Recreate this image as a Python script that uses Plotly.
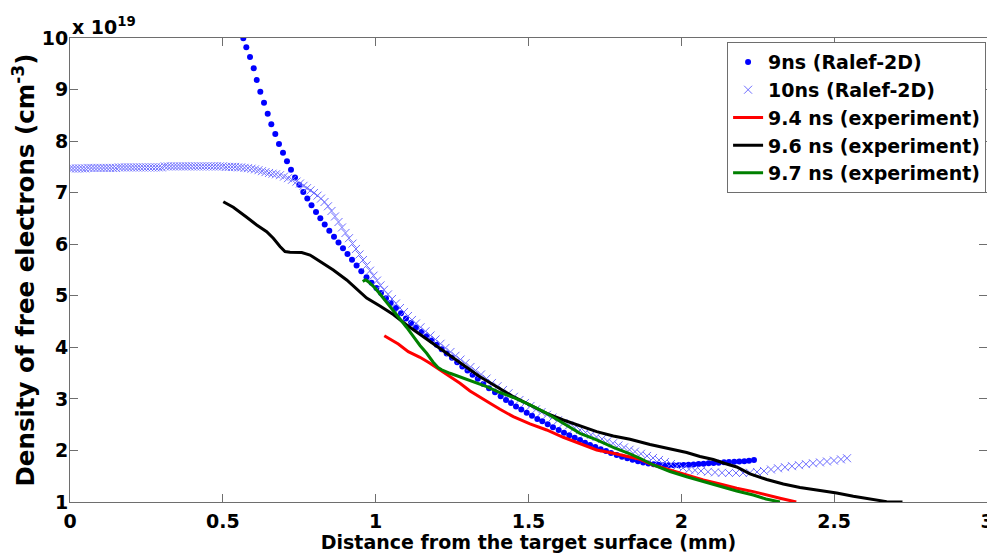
import plotly.graph_objects as go

# ---- 9 ns (Ralef-2D) simulation, density in units of 1e19 cm^-3 ----
sim9_x = [0.5670, 0.5768, 0.5889, 0.6010, 0.6108, 0.6226, 0.6347, 0.6468, 0.6586, 0.6716,
          0.6837, 0.6968, 0.7099, 0.7230, 0.7361, 0.7502, 0.7632, 0.7763, 0.7901, 0.8048,
          0.8189, 0.8333, 0.8483, 0.8637, 0.8784, 0.8931, 0.9078, 0.9226, 0.9376, 0.9530,
          0.9700, 0.9864, 1.0024, 1.0174, 1.0338, 1.0492, 1.0665, 1.0829, 1.0992, 1.1156,
          1.1319, 1.1499, 1.1669, 1.1833, 1.1997, 1.2160, 1.2324, 1.2497, 1.2667, 1.2834,
          1.3004, 1.3171, 1.3341, 1.3521, 1.3708, 1.3904, 1.4090, 1.4264, 1.4427, 1.4591,
          1.4764, 1.4941, 1.5114, 1.5288, 1.5451, 1.5628, 1.5801, 1.5988, 1.6161, 1.6335,
          1.6511, 1.6685, 1.6848, 1.7012, 1.7185, 1.7362, 1.7535, 1.7699, 1.7885, 1.8059,
          1.8232, 1.8405, 1.8582, 1.8752, 1.8922, 1.9093, 1.9256, 1.9420, 1.9583, 1.9747,
          1.9910, 2.0074, 2.0237, 2.0401, 2.0565, 2.0728, 2.0892, 2.1055, 2.1222, 2.1396,
          2.1559, 2.1732, 2.1896, 2.2060, 2.2214, 2.2377]
sim9_y = [9.994, 9.820, 9.631, 9.412, 9.185, 8.958, 8.745, 8.532, 8.326, 8.138,
          7.944, 7.775, 7.609, 7.446, 7.294, 7.155, 7.013, 6.887, 6.755, 6.625,
          6.503, 6.383, 6.263, 6.144, 6.034, 5.921, 5.811, 5.698, 5.588, 5.475,
          5.361, 5.254, 5.151, 5.054, 4.953, 4.860, 4.763, 4.663, 4.560, 4.472,
          4.385, 4.298, 4.216, 4.133, 4.052, 3.962, 3.881, 3.798, 3.712, 3.629,
          3.549, 3.470, 3.390, 3.289, 3.206, 3.128, 3.051, 2.979, 2.921, 2.853,
          2.795, 2.733, 2.675, 2.610, 2.566, 2.508, 2.449, 2.397, 2.345, 2.294,
          2.248, 2.203, 2.151, 2.106, 2.067, 2.023, 1.990, 1.951, 1.912, 1.879,
          1.848, 1.819, 1.792, 1.768, 1.749, 1.734, 1.722, 1.714, 1.712, 1.712,
          1.714, 1.718, 1.722, 1.728, 1.736, 1.743, 1.751, 1.757, 1.762, 1.770,
          1.776, 1.780, 1.784, 1.792, 1.799, 1.815]

# ---- 10 ns (Ralef-2D) simulation ----
sim10_x = [0.00, 0.01, 0.02, 0.03, 0.04, 0.05, 0.06, 0.07, 0.08, 0.09,
           0.10, 0.11, 0.12, 0.13, 0.14, 0.15, 0.16, 0.17, 0.18, 0.19,
           0.20, 0.21, 0.22, 0.23, 0.24, 0.25, 0.26, 0.27, 0.28, 0.29,
           0.30, 0.31, 0.32, 0.33, 0.34, 0.35, 0.36, 0.37, 0.38, 0.39,
           0.40, 0.41, 0.42, 0.43, 0.44, 0.45, 0.46, 0.47, 0.48, 0.49,
           0.50, 0.51, 0.52, 0.53, 0.54, 0.55, 0.56,
           0.5709, 0.5823, 0.5938, 0.6052, 0.6167, 0.6281, 0.6396, 0.6510, 0.6625, 0.6739,
           0.6870, 0.7001, 0.7132, 0.7263, 0.7410, 0.7524, 0.7639, 0.7753, 0.7868, 0.7982,
           0.8097, 0.8211, 0.8326, 0.8440, 0.8555, 0.8669, 0.8784, 0.8898, 0.9013, 0.9127,
           0.9242, 0.9356, 0.9471, 0.9585, 0.9700, 0.9815, 0.9929, 1.0044, 1.0158, 1.0273,
           1.0403, 1.0534, 1.0665, 1.0796, 1.0927, 1.1058, 1.1189, 1.1319, 1.1467, 1.1630,
           1.1794, 1.1957, 1.2121, 1.2284, 1.2448, 1.2612, 1.2775, 1.2939, 1.3102, 1.3266,
           1.3446, 1.3626, 1.3806, 1.3986, 1.4166, 1.4346, 1.4525, 1.4705, 1.4885, 1.5065,
           1.5245, 1.5425, 1.5605, 1.5785, 1.5965, 1.6145, 1.6325, 1.6505, 1.6685, 1.6865,
           1.7045, 1.7224, 1.7404, 1.7584, 1.7764, 1.7944, 1.8124, 1.8304, 1.8484, 1.8680,
           1.8877, 1.9073, 1.9269, 1.9465, 1.9662, 1.9858, 2.0054, 2.0251, 2.0447, 2.0643,
           2.0872, 2.1101, 2.1330, 2.1559, 2.1788, 2.2017, 2.2246, 2.2475, 2.2704, 2.2933,
           2.3162, 2.3391, 2.3620, 2.3849, 2.4078, 2.4307, 2.4536, 2.4765, 2.4994, 2.5223,
           2.5420]
sim10_y = [7.47, 7.47, 7.47, 7.47, 7.47, 7.47, 7.48, 7.48, 7.48, 7.48,
           7.48, 7.48, 7.48, 7.48, 7.48, 7.48, 7.49, 7.49, 7.49, 7.49,
           7.49, 7.49, 7.49, 7.49, 7.49, 7.49, 7.49, 7.49, 7.49, 7.49,
           7.49, 7.51, 7.51, 7.51, 7.51, 7.51, 7.51, 7.51, 7.51, 7.51,
           7.51, 7.51, 7.51, 7.51, 7.51, 7.51, 7.51, 7.51, 7.51, 7.51,
           7.51, 7.50, 7.50, 7.50, 7.50, 7.49, 7.49,
           7.482, 7.475, 7.465, 7.452, 7.436, 7.417, 7.399, 7.382, 7.368, 7.356,
           7.339, 7.312, 7.281, 7.250, 7.215, 7.178, 7.133, 7.087, 7.044, 6.994,
           6.943, 6.885, 6.819, 6.736, 6.645, 6.538, 6.431, 6.325, 6.218, 6.117,
           6.012, 5.908, 5.801, 5.694, 5.588, 5.487, 5.390, 5.295, 5.202, 5.116,
           5.027, 4.938, 4.851, 4.763, 4.686, 4.608, 4.531, 4.463, 4.389, 4.311,
           4.230, 4.152, 4.069, 3.988, 3.910, 3.836, 3.763, 3.691, 3.619, 3.551,
           3.474, 3.394, 3.309, 3.245, 3.173, 3.109, 3.041, 2.979, 2.921, 2.863,
           2.797, 2.743, 2.692, 2.638, 2.585, 2.533, 2.486, 2.440, 2.397, 2.349,
           2.304, 2.261, 2.223, 2.180, 2.139, 2.097, 2.058, 2.013, 1.977, 1.936,
           1.893, 1.854, 1.815, 1.776, 1.737, 1.699, 1.660, 1.633, 1.615, 1.602,
           1.586, 1.575, 1.567, 1.563, 1.563, 1.563, 1.569, 1.582, 1.602, 1.631,
           1.654, 1.675, 1.695, 1.714, 1.734, 1.751, 1.768, 1.786, 1.804, 1.827,
           1.849]

# ---- 9.4 ns experiment ----
exp94_x = [1.0282, 1.0469, 1.0740, 1.1067, 1.1450, 1.1777, 1.2104, 1.2432, 1.2759, 1.3086,
           1.3413, 1.3741, 1.4067, 1.4502, 1.5048, 1.5595, 1.6138, 1.6685, 1.7231, 1.7774,
           1.8320, 1.8647, 1.9082, 1.9629, 2.0175, 2.0718, 2.1265, 2.1811, 2.2354, 2.2900,
           2.3227, 2.3760]
exp94_y = [4.226, 4.162, 4.065, 3.916, 3.807, 3.691, 3.561, 3.431, 3.303, 3.154,
           3.027, 2.915, 2.799, 2.655, 2.514, 2.397, 2.256, 2.126, 2.009, 1.945,
           1.879, 1.829, 1.718, 1.621, 1.524, 1.427, 1.350, 1.267, 1.201, 1.117,
           1.073, 1.000]

# ---- 9.6 ns experiment ----
exp96_x = [0.5015, 0.5342, 0.5781, 0.6108, 0.6435, 0.6651, 0.6870, 0.7034, 0.7197, 0.7394,
           0.7580, 0.7852, 0.8179, 0.8614, 0.9052, 0.9379, 0.9706, 1.0141, 1.0577, 1.1015,
           1.1558, 1.2104, 1.2651, 1.3194, 1.3413, 1.3959, 1.4502, 1.5048, 1.5595, 1.6138,
           1.6685, 1.7231, 1.7774, 1.8320, 1.8975, 1.9629, 2.0175, 2.0610, 2.1046, 2.1428,
           2.1811, 2.2246, 2.2793, 2.3336, 2.3882, 2.4428, 2.5082, 2.5626, 2.6172, 2.6718,
           2.7235]
exp96_y = [6.825, 6.716, 6.522, 6.373, 6.243, 6.115, 5.956, 5.859, 5.844, 5.846,
           5.840, 5.791, 5.661, 5.500, 5.306, 5.132, 4.957, 4.802, 4.637, 4.434,
           4.207, 3.982, 3.755, 3.528, 3.431, 3.237, 3.043, 2.882, 2.721, 2.591,
           2.475, 2.364, 2.281, 2.217, 2.116, 2.029, 1.961, 1.883, 1.825, 1.747,
           1.679, 1.544, 1.437, 1.350, 1.282, 1.233, 1.175, 1.111, 1.055, 1.007,
           1.000]

# ---- 9.7 ns experiment ----
exp97_x = [0.9576, 0.9667, 0.9782, 0.9978, 1.0141, 1.0360, 1.0577, 1.0796, 1.1015, 1.1231,
           1.1450, 1.1669, 1.1876, 1.2039, 1.2160, 1.2432, 1.2867, 1.3305, 1.3632, 1.4067,
           1.4502, 1.5048, 1.5595, 1.6138, 1.6685, 1.7231, 1.7774, 1.8320, 1.8647, 1.9082,
           1.9629, 2.0175, 2.0718, 2.1265, 2.1811, 2.2354, 2.2770, 2.3227]
exp97_y = [5.277, 5.310, 5.262, 5.151, 5.035, 4.880, 4.715, 4.550, 4.385, 4.201,
           4.036, 3.885, 3.716, 3.609, 3.565, 3.497, 3.400, 3.303, 3.237, 3.124,
           3.027, 2.882, 2.721, 2.527, 2.333, 2.203, 2.058, 1.932, 1.848, 1.718,
           1.592, 1.491, 1.394, 1.297, 1.214, 1.136, 1.059, 1.000]

x_ticks = [0, 0.5, 1, 1.5, 2, 2.5, 3]
x_ticklabels = ["0", "0.5", "1", "1.5", "2", "2.5", "3"]
y_ticks = [1, 2, 3, 4, 5, 6, 7, 8, 9, 10]
y_ticklabels = ["1", "2", "3", "4", "5", "6", "7", "8", "9", "10"]

FONT = "DejaVu Sans, Liberation Sans, Arial, sans-serif"
AXIS_COLOR = "#6e6e6e"
TXT = dict(family=FONT, size=19, color="black", weight="bold")
YTITLE = dict(family=FONT, size=24.5, color="black", weight="bold")

fig = go.Figure()
fig.add_trace(go.Scatter(x=sim9_x, y=sim9_y, mode="markers", name="9ns (Ralef-2D)",
                         marker=dict(symbol="circle", size=6, color="#0000ff")))
fig.add_trace(go.Scatter(x=sim10_x, y=sim10_y, mode="markers", name="10ns (Ralef-2D)",
                         marker=dict(symbol="x-thin", size=8,
                                     line=dict(width=1, color="rgb(110,110,255)"))))
fig.add_trace(go.Scatter(x=exp94_x, y=exp94_y, mode="lines", name="9.4 ns (experiment)",
                         line=dict(color="#ff0000", width=3)))
fig.add_trace(go.Scatter(x=exp96_x, y=exp96_y, mode="lines", name="9.6 ns (experiment)",
                         line=dict(color="#000000", width=3)))
fig.add_trace(go.Scatter(x=exp97_x, y=exp97_y, mode="lines", name="9.7 ns (experiment)",
                         line=dict(color="#008000", width=3)))

axis_common = dict(showline=True, linecolor=AXIS_COLOR, linewidth=1, mirror="ticks",
                   ticks="inside", ticklen=8, tickcolor=AXIS_COLOR, tickwidth=1,
                   showgrid=False, zeroline=False, automargin=False,
                   tickfont=TXT)

fig.update_xaxes(range=[0, 3], tickvals=x_ticks, ticktext=x_ticklabels,
                 ticklabelstandoff=2,
                 title=dict(text="Distance from the target surface (mm)", standoff=6,
                            font=TXT),
                 **axis_common)
fig.update_yaxes(range=[1, 10], tickvals=y_ticks, ticktext=y_ticklabels,
                 ticklabelstandoff=-3,
                 title=dict(text="Density of free electrons (cm<sup>-3</sup>)", standoff=0,
                            font=YTITLE),
                 **axis_common)

fig.add_annotation(xref="paper", yref="paper", x=0, y=1, xanchor="left", yanchor="bottom",
                   text="x 10<sup>19</sup>", showarrow=False, yshift=-2,
                   font=TXT)

# page body has an 8px margin: size the figure so it fills the 995x553 window
fig.update_layout(
    width=987, height=545,
    margin=dict(l=62, r=8, t=30, b=51),
    paper_bgcolor="white", plot_bgcolor="white",
    showlegend=True,
    legend=dict(x=0.999, y=0.991, xanchor="right", yanchor="top",
                bgcolor="white", bordercolor=AXIS_COLOR, borderwidth=1,
                itemwidth=30, tracegroupgap=0,
                font=TXT),
)

fig.write_html("out.html")
